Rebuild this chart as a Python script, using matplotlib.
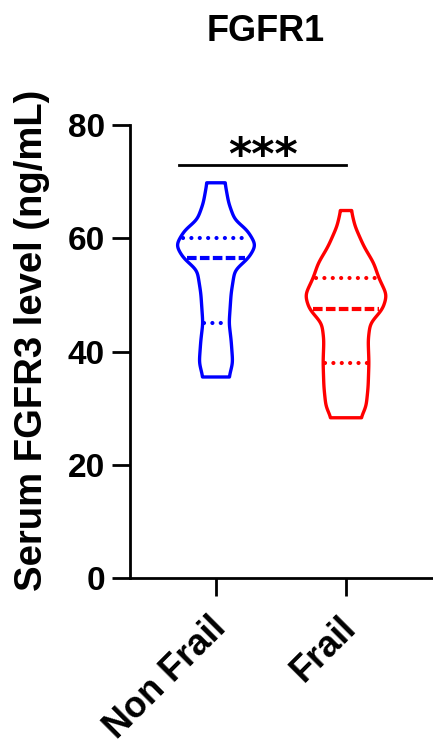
import numpy as np
import matplotlib.pyplot as plt
from matplotlib.transforms import ScaledTranslation

plt.rcParams['font.family'] = ['Liberation Sans', 'DejaVu Sans']
plt.rcParams['font.weight'] = 'bold'

groups = ["Non Frail", "Frail"]
colors = ["#0000ff", "#ff0000"]

# violin outlines: level (ng/mL) and relative half-width
blue_y = [35.5, 38, 42, 45, 50.3, 54.4, 56.5, 58.8, 61.5, 63.2, 66.2, 69.8]
blue_w = [0.32, 0.41, 0.37, 0.32, 0.37, 0.46, 0.80, 0.98, 0.76, 0.46, 0.31, 0.22]
red_y = [28.3, 30.2, 33.7, 38.1, 42, 45, 47.5, 50, 53, 55.6, 58.5, 62.1, 64.9]
red_w = [0.36, 0.49, 0.54, 0.56, 0.54, 0.59, 0.90, 1.0, 0.80, 0.68, 0.44, 0.22, 0.13]

# lower quartile, median, upper quartile
blue_q = [45, 56.5, 60]
red_q = [38, 47.5, 53]

profiles = [(blue_y, blue_w, blue_q), (red_y, red_w, red_q)]
half_max = 0.315

fig = plt.figure(figsize=(4.33, 7.46), dpi=100)
ax = fig.add_axes([0.300, 0.2252, 0.70, 0.6072])


def smooth(v, sigma):
    k = np.arange(-3 * sigma, 3 * sigma + 1)
    g = np.exp(-0.5 * (k / sigma) ** 2)
    g /= g.sum()
    pad = np.pad(v, len(k) // 2, mode='edge')
    return np.convolve(pad, g, mode='valid')


for i, (ys, ws, qs) in enumerate(profiles):
    c = colors[i]
    yy = np.linspace(ys[0], ys[-1], 400)
    ww = smooth(np.interp(yy, ys, ws), 8) * half_max
    xs = np.concatenate([i - ww, (i + ww)[::-1]])
    yv = np.concatenate([yy, yy[::-1]])
    ax.fill(xs, yv, facecolor='white', edgecolor=c, lw=2.4, zorder=3,
            joinstyle='round')
    for j, q in enumerate(qs):
        hw = np.interp(q, yy, ww) * 0.92
        if j == 1:
            ax.plot([i - hw, i + hw], [q, q], color=c, lw=3.0,
                    ls=(0, (2.3, 0.8)), zorder=4)
        else:
            ax.plot([i - hw, i + hw], [q, q], color=c, lw=3.0,
                    ls=(0, (0.01, 2.0)), dash_capstyle='round', zorder=4)

# significance bar
ax.plot([-0.285, 1.0], [73, 73], color='black', lw=2.0, clip_on=False)
ax.text(0.36, 72.2, "***", ha='center', va='baseline', fontsize=32,
        fontweight='bold', family='DejaVu Sans')

ax.set_xlim(-0.662, 1.669)
ax.set_ylim(0, 80)
ax.set_yticks([0, 20, 40, 60, 80])
ax.set_xticks([0, 1])
ax.set_xticklabels(groups, rotation=45, ha='right', rotation_mode='anchor',
                   fontsize=26, fontweight='bold')
ax.tick_params(axis='y', labelsize=24, length=13, width=2.0, pad=5)
ax.tick_params(axis='x', length=13, width=2.0, pad=10)
for lab in ax.get_yticklabels():
    lab.set_fontweight('bold')
shift = ScaledTranslation(-8 / 100, 0, fig.dpi_scale_trans)
for lab in ax.get_xticklabels():
    lab.set_transform(lab.get_transform() + shift)

for s in ['top', 'right']:
    ax.spines[s].set_visible(False)
for s in ['left', 'bottom']:
    ax.spines[s].set_linewidth(2.0)

ax.set_ylabel("Serum FGFR3 level (ng/mL)", fontsize=27.5, fontweight='bold')
ax.yaxis.set_label_coords(-0.262, 0.525)
fig.text(0.614, 0.958, "FGFR1", ha='center', va='center', fontsize=26,
         fontweight='bold')

fig.savefig("out.png", dpi=100)
